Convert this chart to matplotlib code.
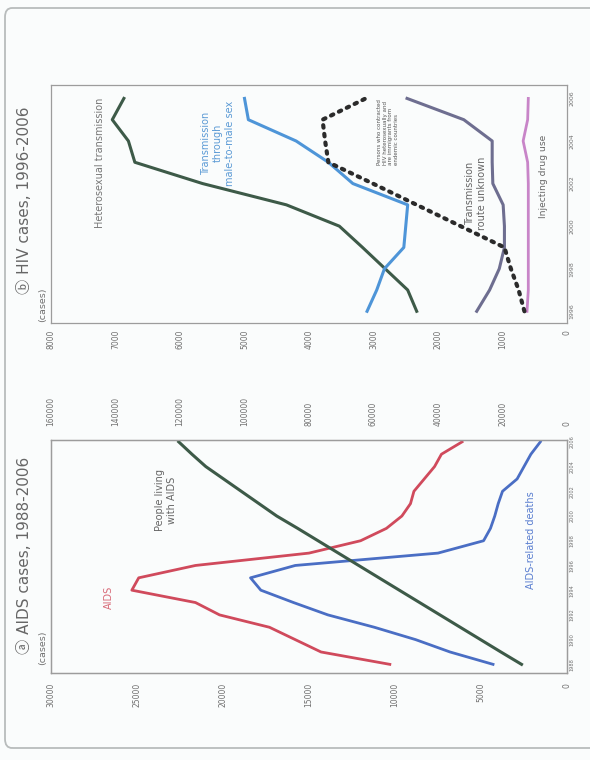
import matplotlib
matplotlib.use('Agg')
import matplotlib.pyplot as plt
from matplotlib.patches import FancyBboxPatch

# (b) HIV cases by route, 1996-2006
hiv_years = list(range(1996, 2007))
hetero = [2330, 2470, 2820, 3170, 3530, 4350, 5650, 6700, 6800, 7050, 6870]
msm = [3100, 2950, 2830, 2530, 2500, 2470, 3320, 3700, 4200, 4940, 5000]
immigrants = [660, 750, 870, 970, 1650, 2330, 3010, 3700, 3750, 3790, 3120]
unknown = [1400, 1200, 1050, 970, 970, 990, 1150, 1160, 1160, 1600, 2480]
injecting = [620, 600, 600, 600, 600, 600, 600, 610, 680, 610, 600]

# (a) AIDS cases, 1988-2006
aids_years = list(range(1988, 2007))
aids = [10300, 14300, 15800, 17300, 20200, 21600, 25300, 24900, 21600, 15000,
        12000, 10500, 9600, 9100, 8900, 8300, 7700, 7300, 6100]
deaths = [4300, 6800, 8800, 11200, 13900, 15900, 17800, 18400, 15800, 7500,
          4850, 4450, 4200, 4000, 3750, 2900, 2500, 2100, 1550]
living = [14100, 20500, 26800, 33100, 39400, 45700, 52000, 58300, 64600, 70900,
          77200, 83500, 90000, 95500, 101000, 106500, 112000, 116300, 120400]

hiv_ticks = [0, 1000, 2000, 3000, 4000, 5000, 6000, 7000, 8000]
aids_ticks = [0, 5000, 10000, 15000, 20000, 25000, 30000]
living_ticks = [0, 20000, 40000, 60000, 80000, 100000, 120000, 140000, 160000]

W, H = 590, 760
BG = '#fafcfc'
FRAME = '#9c9c9c'
TICK = '#707070'

fig = plt.figure(figsize=(W / 100, H / 100), dpi=100)
fig.patch.set_facecolor(BG)

fig.patches.append(FancyBboxPatch((5 / W, 1 - 748 / H), 620 / W, 740 / H,
                                  boxstyle='round,pad=0,rounding_size=0.012',
                                  transform=fig.transFigure, fill=False,
                                  ec='#b8bcbc', lw=1.3))


def px(x, y):
    return x / W, 1 - y / H


def frame(ax):
    ax.set_facecolor(BG)
    for s in ax.spines.values():
        s.set_color(FRAME)
        s.set_linewidth(0.9)
    ax.yaxis.tick_right()
    ax.tick_params(length=0, colors=TICK)


def put_text(x, y, s, size=7, color='#707070', **kw):
    kw.setdefault('ha', 'center')
    kw.setdefault('va', 'center')
    fig.text(*px(x, y), s, rotation=90, fontsize=size, color=color,
             multialignment=kw.pop('ma', 'center'), **kw)


# ---- panel (b), drawn lying on its side ----
axb = fig.add_axes([51 / W, 1 - 323 / H, 516 / W, 238 / H])
frame(axb)
axb.plot(hetero, hiv_years, color='#3d5a48', lw=2.2)
axb.plot(msm, hiv_years, color='#4e95d8', lw=2.2)
axb.plot(unknown, hiv_years, color='#6e6e90', lw=2.2)
axb.plot(injecting, hiv_years, color='#c885c8', lw=2.0)
axb.plot(immigrants, hiv_years, color='#2b2b2b', lw=3.0,
         linestyle=(0, (0.6, 1.5)), dash_capstyle='round')
axb.set_xlim(8000, 0)
axb.set_ylim(1995.45, 2006.63)
axb.set_xticks(hiv_ticks, labels=[str(v) for v in hiv_ticks], rotation=90,
               ha='center', va='top', fontsize=5.5)
axb.set_yticks(hiv_years[::2], labels=[str(y) for y in hiv_years[::2]],
               rotation=90, va='center', fontsize=4.5)
axb.tick_params(axis='x', pad=5)
axb.tick_params(axis='y', pad=2)

# ---- panel (a) ----
axa = fig.add_axes([51 / W, 1 - 673 / H, 516 / W, 233 / H])
frame(axa)
axa.plot(aids, aids_years, color='#d04a5c', lw=2.0)
axa.plot(deaths, aids_years, color='#4a6ec4', lw=2.0)
axa.set_xlim(30000, 0)
axa.set_ylim(1987.3, 2006.15)
axa.set_xticks(aids_ticks, labels=[str(v) for v in aids_ticks], rotation=90,
               ha='center', va='top', fontsize=5.5)
axa.set_yticks(aids_years[::2], labels=[str(y) for y in aids_years[::2]],
               rotation=90, va='center', fontsize=3.6)
axa.tick_params(axis='x', pad=7)
axa.tick_params(axis='y', pad=2)

axa2 = axa.twiny()
axa2.plot(living, aids_years, color='#3d5a48', lw=2.2)
axa2.set_xlim(160000, 0)
axa2.set_xticks(living_ticks, labels=[str(v) for v in living_ticks],
                rotation=90, ha='center', va='bottom', fontsize=5.5)
axa2.tick_params(length=0, colors=TICK, pad=10)
for s in axa2.spines.values():
    s.set_color(FRAME)
    s.set_linewidth(0.9)

# titles and units
title_font = ['DejaVu Sans', 'Noto Sans CJK JP']
put_text(25, 294, '\u24d1 HIV cases, 1996-2006', size=11, color='#666666',
         va='bottom', family=title_font)
put_text(25, 654, '\u24d0 AIDS cases, 1988-2006', size=11, color='#666666',
         va='bottom', family=title_font)
put_text(43, 322, '(cases)', size=6.8, va='bottom')
put_text(43, 665, '(cases)', size=6.8, va='bottom')

# series labels
put_text(100, 163, 'Heterosexual transmission', color='#777777')
put_text(218, 143, 'Transmission\nthrough\nmale-to-male sex', color='#5b9ad5')
put_text(388, 132, 'Persons who contracted\nHIV heterosexually and\n'
         'are immigrants from\nendemic countries', size=4.0, color='#555555',
         ma='left')
put_text(476, 193, 'Transmission\nroute unknown', color='#666666')
put_text(544, 176, 'Injecting drug use', size=6.6, color='#666666')

put_text(109, 597, 'AIDS', color='#d86a78')
put_text(166, 500, 'People living\nwith AIDS', color='#666666')
put_text(531, 540, 'AIDS-related deaths', color='#5b7fd0')

fig.savefig('out.png', dpi=100, facecolor=BG)
